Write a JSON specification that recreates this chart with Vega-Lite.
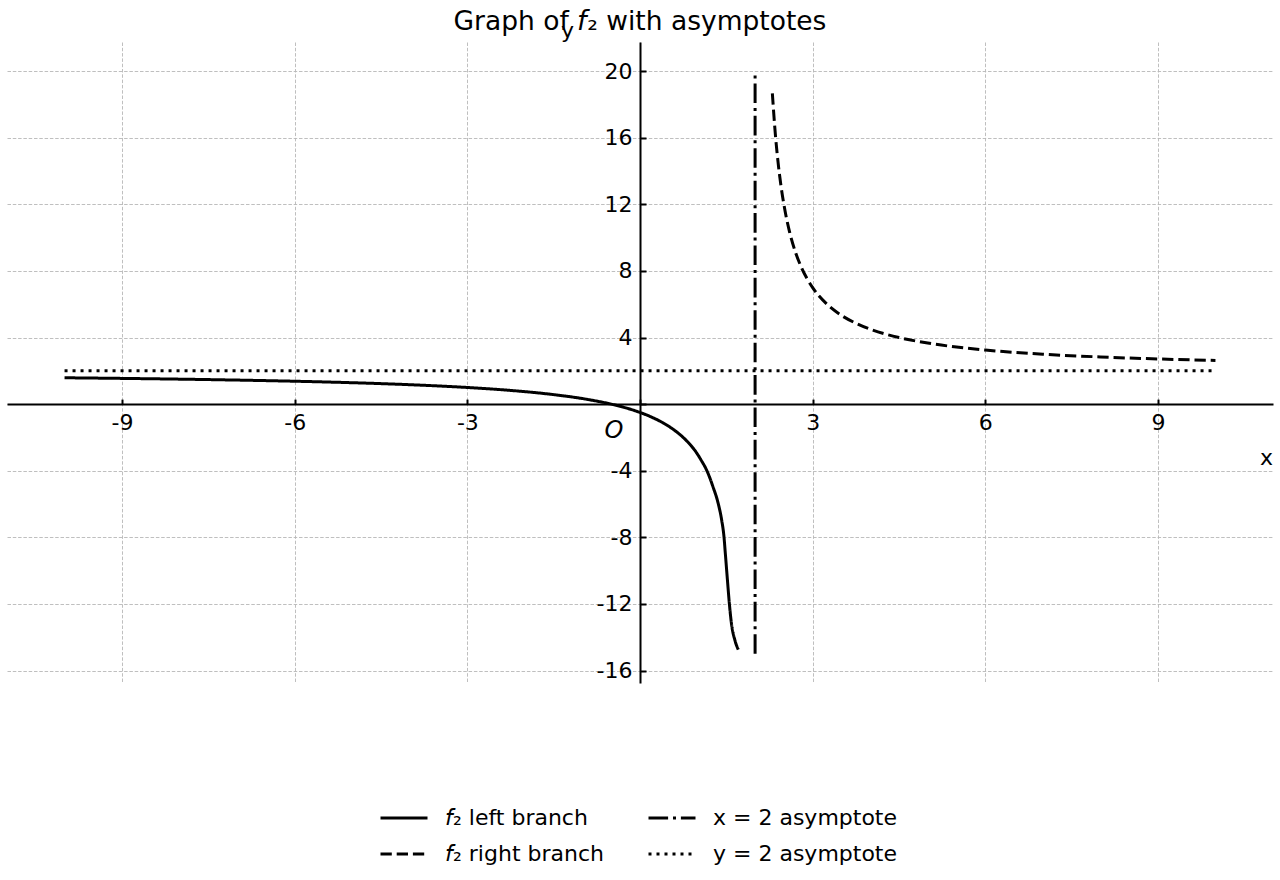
{
  "$schema": "https://vega.github.io/schema/vega-lite/v6.json",
  "width": 1266,
  "height": 641,
  "autosize": {"type": "none"},
  "padding": {"left": 7, "top": 42, "right": 7, "bottom": 197},
  "background": "white",
  "config": {"font": "DejaVu Sans", "view": {"stroke": null}},
  "title": {"text": "Graph of 𝘧₂ with asymptotes", "font": "DejaVu Sans", "fontSize": 26.5, "fontWeight": "normal", "color": "black", "anchor": "middle", "baseline": "alphabetic", "offset": -37, "frame": "group"},
  "datasets": {
    "branches": [
      {"x": -10, "y": 1.583, "series": "𝘧₂ left branch"},
      {"x": -9, "y": 1.545, "series": "𝘧₂ left branch"},
      {"x": -8, "y": 1.5, "series": "𝘧₂ left branch"},
      {"x": -7, "y": 1.444, "series": "𝘧₂ left branch"},
      {"x": -6, "y": 1.375, "series": "𝘧₂ left branch"},
      {"x": -5, "y": 1.286, "series": "𝘧₂ left branch"},
      {"x": -4, "y": 1.167, "series": "𝘧₂ left branch"},
      {"x": -3, "y": 1.0, "series": "𝘧₂ left branch"},
      {"x": -2.5, "y": 0.889, "series": "𝘧₂ left branch"},
      {"x": -2, "y": 0.75, "series": "𝘧₂ left branch"},
      {"x": -1.5, "y": 0.571, "series": "𝘧₂ left branch"},
      {"x": -1, "y": 0.333, "series": "𝘧₂ left branch"},
      {"x": -0.5, "y": 0.0, "series": "𝘧₂ left branch"},
      {"x": -0.25, "y": -0.222, "series": "𝘧₂ left branch"},
      {"x": 0, "y": -0.5, "series": "𝘧₂ left branch"},
      {"x": 0.2, "y": -0.778, "series": "𝘧₂ left branch"},
      {"x": 0.4, "y": -1.125, "series": "𝘧₂ left branch"},
      {"x": 0.6, "y": -1.571, "series": "𝘧₂ left branch"},
      {"x": 0.8, "y": -2.167, "series": "𝘧₂ left branch"},
      {"x": 0.95, "y": -2.762, "series": "𝘧₂ left branch"},
      {"x": 1.06, "y": -3.35, "series": "𝘧₂ left branch"},
      {"x": 1.16, "y": -3.98, "series": "𝘧₂ left branch"},
      {"x": 1.27, "y": -4.98, "series": "𝘧₂ left branch"},
      {"x": 1.36, "y": -5.98, "series": "𝘧₂ left branch"},
      {"x": 1.42, "y": -6.98, "series": "𝘧₂ left branch"},
      {"x": 1.46, "y": -7.99, "series": "𝘧₂ left branch"},
      {"x": 1.483, "y": -8.98, "series": "𝘧₂ left branch"},
      {"x": 1.506, "y": -9.99, "series": "𝘧₂ left branch"},
      {"x": 1.529, "y": -10.99, "series": "𝘧₂ left branch"},
      {"x": 1.553, "y": -11.99, "series": "𝘧₂ left branch"},
      {"x": 1.59, "y": -13.2, "series": "𝘧₂ left branch"},
      {"x": 1.65, "y": -14.19, "series": "𝘧₂ left branch"},
      {"x": 1.708, "y": -14.75, "series": "𝘧₂ left branch"},
      {"x": 2.3, "y": 18.67, "series": "𝘧₂ right branch"},
      {"x": 2.35, "y": 16.29, "series": "𝘧₂ right branch"},
      {"x": 2.4, "y": 14.5, "series": "𝘧₂ right branch"},
      {"x": 2.45, "y": 13.11, "series": "𝘧₂ right branch"},
      {"x": 2.5, "y": 12.0, "series": "𝘧₂ right branch"},
      {"x": 2.6, "y": 10.33, "series": "𝘧₂ right branch"},
      {"x": 2.7, "y": 9.14, "series": "𝘧₂ right branch"},
      {"x": 2.8, "y": 8.25, "series": "𝘧₂ right branch"},
      {"x": 2.9, "y": 7.56, "series": "𝘧₂ right branch"},
      {"x": 3.0, "y": 7.0, "series": "𝘧₂ right branch"},
      {"x": 3.25, "y": 6.0, "series": "𝘧₂ right branch"},
      {"x": 3.5, "y": 5.33, "series": "𝘧₂ right branch"},
      {"x": 3.75, "y": 4.86, "series": "𝘧₂ right branch"},
      {"x": 4.0, "y": 4.5, "series": "𝘧₂ right branch"},
      {"x": 4.5, "y": 4.0, "series": "𝘧₂ right branch"},
      {"x": 5.0, "y": 3.667, "series": "𝘧₂ right branch"},
      {"x": 5.5, "y": 3.429, "series": "𝘧₂ right branch"},
      {"x": 6, "y": 3.25, "series": "𝘧₂ right branch"},
      {"x": 7, "y": 3.0, "series": "𝘧₂ right branch"},
      {"x": 8, "y": 2.833, "series": "𝘧₂ right branch"},
      {"x": 9, "y": 2.714, "series": "𝘧₂ right branch"},
      {"x": 10, "y": 2.625, "series": "𝘧₂ right branch"}
    ],
    "asymptotes": [
      {"x": 2, "y": -15, "series": "x = 2 asymptote"},
      {"x": 2, "y": 20, "series": "x = 2 asymptote"},
      {"x": -10, "y": 2, "series": "y = 2 asymptote"},
      {"x": 10, "y": 2, "series": "y = 2 asymptote"}
    ]
  },
  "layer": [
    {
      "data": {"name": "branches"},
      "mark": {"type": "line", "strokeWidth": 3, "color": "black", "interpolate": "monotone"},
      "encoding": {
        "x": {"field": "x", "type": "quantitative", "scale": {"domain": [-11, 11], "nice": false, "zero": false},
          "axis": {"orient": "bottom", "offset": -278.9, "values": [-9, -6, -3, 0, 3, 6, 9],
            "labelExpr": "datum.value == 0 ? '' : toString(datum.value)",
            "labelFont": "DejaVu Sans", "labelFontSize": 22, "labelColor": "black", "labelPadding": 13,
            "labelFlush": false, "labelOverlap": false,
            "tickSize": -5, "tickColor": "black", "tickWidth": 2,
            "domainColor": "black", "domainWidth": 2,
            "grid": true, "gridColor": "#b8b8b8", "gridDash": [3.5, 1.8], "gridWidth": 0.9,
            "title": "x", "titleX": 1259, "titleY": 53, "titleAlign": "center", "titleBaseline": "middle",
            "titleFont": "DejaVu Sans", "titleFontSize": 22, "titleFontWeight": "normal", "titleColor": "black"}},
        "y": {"field": "y", "type": "quantitative", "scale": {"domain": [-16.75, 21.75], "nice": false, "zero": false},
          "axis": {"orient": "left", "offset": -633, "values": [-16, -12, -8, -4, 0, 4, 8, 12, 16, 20],
            "labelExpr": "datum.value == 0 ? '' : toString(datum.value)",
            "labelFont": "DejaVu Sans", "labelFontSize": 22, "labelColor": "black", "labelPadding": 14,
            "labelFlush": false, "labelOverlap": false,
            "tickSize": -6, "tickColor": "black", "tickWidth": 2,
            "domainColor": "black", "domainWidth": 2,
            "grid": true, "gridColor": "#b8b8b8", "gridDash": [3.5, 1.8], "gridWidth": 0.9,
            "title": "y", "titleX": -73, "titleY": -12, "titleAngle": 0, "titleAlign": "center", "titleBaseline": "middle",
            "titleFont": "DejaVu Sans", "titleFontSize": 22, "titleFontWeight": "normal", "titleColor": "black"}},
        "strokeDash": {"field": "series", "type": "nominal",
          "scale": {"domain": ["𝘧₂ left branch", "𝘧₂ right branch", "x = 2 asymptote", "y = 2 asymptote"],
            "range": [[1, 0], [11.3, 4.9], [19.6, 4.9, 3, 4.9], [3, 5]]},
          "legend": {"orient": "none", "legendX": 372, "legendY": 751, "columns": 2, "title": null,
            "symbolType": "stroke", "symbolSize": 2209, "symbolStrokeWidth": 3, "symbolStrokeColor": "black",
            "labelFont": "DejaVu Sans", "labelFontSize": 22, "labelColor": "black", "labelOffset": 16,
            "columnPadding": 38, "rowPadding": 0, "padding": 0, "labelLimit": 0}}
      }
    },
    {
      "data": {"name": "asymptotes"},
      "mark": {"type": "line", "strokeWidth": 3, "color": "black"},
      "encoding": {
        "x": {"field": "x", "type": "quantitative"},
        "y": {"field": "y", "type": "quantitative"},
        "strokeDash": {"field": "series", "type": "nominal",
          "scale": {"domain": ["𝘧₂ left branch", "𝘧₂ right branch", "x = 2 asymptote", "y = 2 asymptote"],
            "range": [[1, 0], [11.3, 4.9], [19.6, 4.9, 3, 4.9], [3, 5]]}},
        "order": {"value": null}
      }
    },
    {
      "data": {"values": [{"label": "O"}]},
      "mark": {"type": "text", "font": "DejaVu Sans", "fontStyle": "italic", "fontSize": 24, "color": "black", "dx": -26, "dy": 27, "align": "center", "baseline": "middle"},
      "encoding": {
        "x": {"datum": 0},
        "y": {"datum": 0},
        "text": {"field": "label"}
      }
    }
  ]
}
